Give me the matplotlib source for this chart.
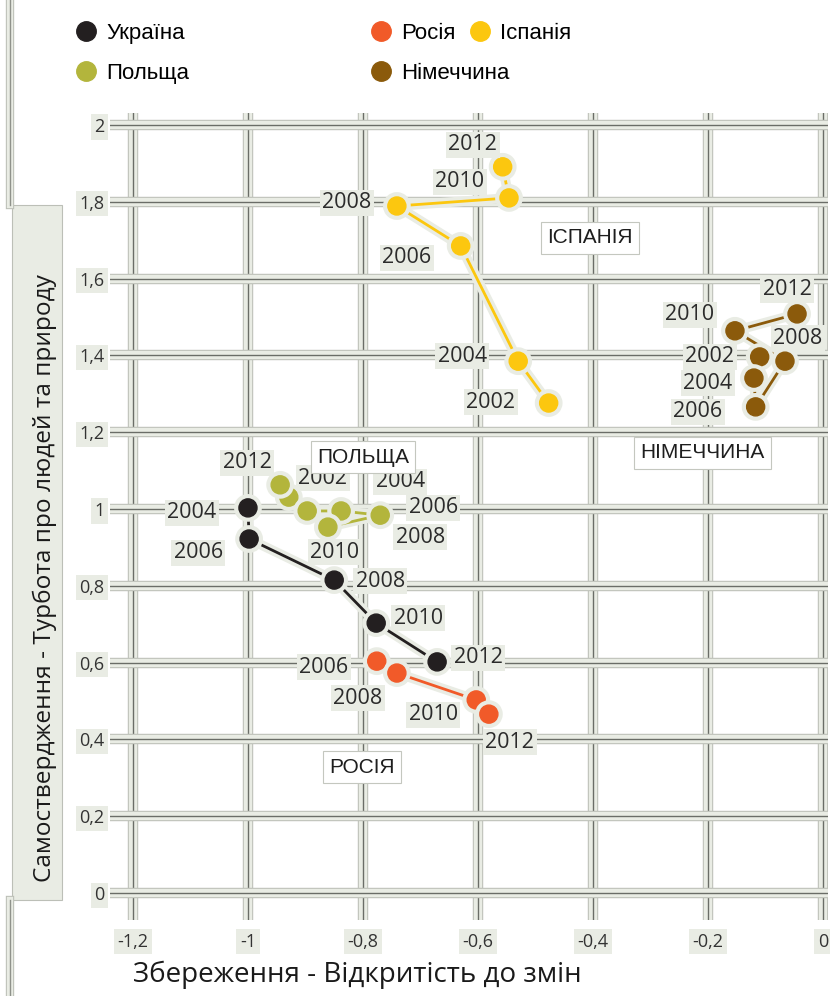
import matplotlib
matplotlib.use('Agg')
import matplotlib.pyplot as plt
import matplotlib.patheffects as pe
from matplotlib.lines import Line2D
from matplotlib.patches import Rectangle

plt.rcParams['font.family'] = ['Open Sans', 'DejaVu Sans']

# values
ukraine_years = [2004, 2006, 2008, 2010, 2012]
ukraine_x = [-1.0, -0.998, -0.850, -0.777, -0.671]
ukraine_y = [1.003, 0.922, 0.815, 0.703, 0.602]

russia_years = [2006, 2008, 2010, 2012]
russia_x = [-0.776, -0.741, -0.603, -0.581]
russia_y = [0.604, 0.573, 0.503, 0.466]

spain_years = [2002, 2004, 2006, 2008, 2010, 2012]
spain_x = [-0.477, -0.530, -0.630, -0.741, -0.546, -0.557]
spain_y = [1.276, 1.385, 1.685, 1.789, 1.810, 1.891]

poland_years = [2002, 2004, 2006, 2008, 2010, 2012]
poland_x = [-0.929, -0.897, -0.838, -0.770, -0.861, -0.944]
poland_y = [1.031, 0.995, 0.995, 0.984, 0.953, 1.063]

germany_years = [2002, 2004, 2006, 2008, 2010, 2012]
germany_x = [-0.110, -0.120, -0.117, -0.066, -0.153, -0.045]
germany_y = [1.396, 1.341, 1.266, 1.385, 1.464, 1.508]

x_ticks = [-1.2, -1.0, -0.8, -0.6, -0.4, -0.2, 0.0]
y_ticks = [0, 0.2, 0.4, 0.6, 0.8, 1.0, 1.2, 1.4, 1.6, 1.8, 2.0]

# year label offsets (pixels) - layout only
off_ukr = [(-56, -5), (-51, -14), (46, -1), (42, 5), (41, 4)]
off_rus = [(-53, -6), (-39, -25), (-43, -15), (21, -28)]
off_spa = [(-58, 1), (-56, 5), (-54, -12), (-50, 3), (-49, 16), (-30, 22)]
off_pol = [(34, 19), (93, 29), (92, 3), (40, -22), (7, -25), (-33, 22)]
off_ger = [(-50, 0), (-46, -5), (-58, -5), (13, 23), (-45, 16), (-10, 24)]

series = [
    ('Україна', ukraine_years, ukraine_x, ukraine_y, '#231f20', off_ukr),
    ('Польща', poland_years, poland_x, poland_y, '#b3b53c', off_pol),
    ('Росія', russia_years, russia_x, russia_y, '#f15a29', off_rus),
    ('Німеччина', germany_years, germany_x, germany_y, '#8b5a0b', off_ger),
    ('Іспанія', spain_years, spain_x, spain_y, '#fcc70f', off_spa),
]

region_names = ['ІСПАНІЯ', 'НІМЕЧЧИНА', 'ПОЛЬЩА', 'РОСІЯ']
region_pos = [(-0.405, 1.706), (-0.209, 1.146), (-0.800, 1.135), (-0.802, 0.328)]

LIGHT = '#e9ece4'
EDGE = '#bcbfb7'

fig = plt.figure(figsize=(8.3, 9.96), dpi=100)
ax = fig.add_axes([0.1325, 0.0763, 0.865, 0.8102])
ax.set_xlim(-1.24, 0.0087)
ax.set_ylim(-0.07, 2.031)

grid_fx = [pe.Stroke(linewidth=7.5, foreground=EDGE),
           pe.Stroke(linewidth=6, foreground=LIGHT),
           pe.Normal()]
ax.set_xticks(x_ticks)
ax.set_yticks(y_ticks)
ax.set_xticklabels([('%g' % v).replace('.', ',') for v in x_ticks])
ax.set_yticklabels([('%g' % v).replace('.', ',') for v in y_ticks])
ax.grid(True, color='#6a6d67', linewidth=1.0, path_effects=grid_fx, zorder=0)
ax.set_axisbelow(True)
for s in ax.spines.values():
    s.set_visible(False)
ax.tick_params(length=0, labelsize=13, labelcolor='#333333')
ax.tick_params(axis='x', pad=9)
ax.tick_params(axis='y', pad=4)
for lab in ax.get_xticklabels() + ax.get_yticklabels():
    lab.set_bbox(dict(facecolor=LIGHT, edgecolor='none', boxstyle='square,pad=0.2'))

handles = []
for name, yrs, xs, ys, col, offs in series:
    ax.plot(xs, ys, '-o', color=col, lw=2, markersize=13, zorder=4,
            path_effects=[pe.withStroke(linewidth=7, foreground=LIGHT)])
    handles.append(Line2D([], [], marker='o', linestyle='', color=col,
                          markersize=14, label=name))
    for yr, x, y, off in zip(yrs, xs, ys, offs):
        ax.annotate(str(yr), (x, y), xytext=off, textcoords='offset pixels',
                    ha='center', va='center', fontsize=15.5, color='#2b2b2b',
                    zorder=5,
                    bbox=dict(facecolor=LIGHT, edgecolor='none',
                              boxstyle='square,pad=0.12'))

for name, (x, y) in zip(region_names, region_pos):
    ax.text(x, y, name, ha='center', va='center', fontsize=15,
            family=['Liberation Sans', 'DejaVu Sans'], color='#1e1e1e', zorder=5,
            bbox=dict(facecolor='white', edgecolor='#c4c7bf', lw=0.8,
                      boxstyle='square,pad=0.3'))

# legend in three columns like the original
leg_cols = [([handles[0], handles[1]], 0.077),
            ([handles[2], handles[3]], 0.4325),
            ([handles[4]], 0.552)]
for hs, lx in leg_cols:
    fig.legend(handles=hs, loc='upper left', bbox_to_anchor=(lx, 0.988),
               frameon=False, borderpad=0, handlelength=1.0, handletextpad=0.4,
               labelspacing=0.85,
               prop={'family': ['Liberation Sans', 'DejaVu Sans'], 'size': 16})

# left frame bits and y label panel
frame_fx = [pe.Stroke(linewidth=6, foreground=EDGE),
            pe.Stroke(linewidth=4.5, foreground=LIGHT),
            pe.Normal()]
fig.add_artist(Line2D([0.012, 0.012], [1.0, 0.794], color='#8f928b', lw=1,
                      path_effects=frame_fx))
fig.add_artist(Line2D([0.012, 0.012], [0.0, 0.096], color='#8f928b', lw=1,
                      path_effects=frame_fx))
fig.add_artist(Rectangle((0.0145, 0.0964), 0.060, 0.698, transform=fig.transFigure,
                         facecolor=LIGHT, edgecolor=EDGE, lw=0.8))

fig.text(0.054, 1 - 578 / 996, 'Самоствердження - Турбота про людей та природу',
         rotation=90, ha='center', va='center', fontsize=17.6, color='#1a1a1a')
fig.text(133 / 830, 1 - 975 / 996, 'Збереження - Відкритість до змін',
         ha='left', va='center', fontsize=20, color='#1a1a1a')

fig.savefig('out.png', dpi=100)
